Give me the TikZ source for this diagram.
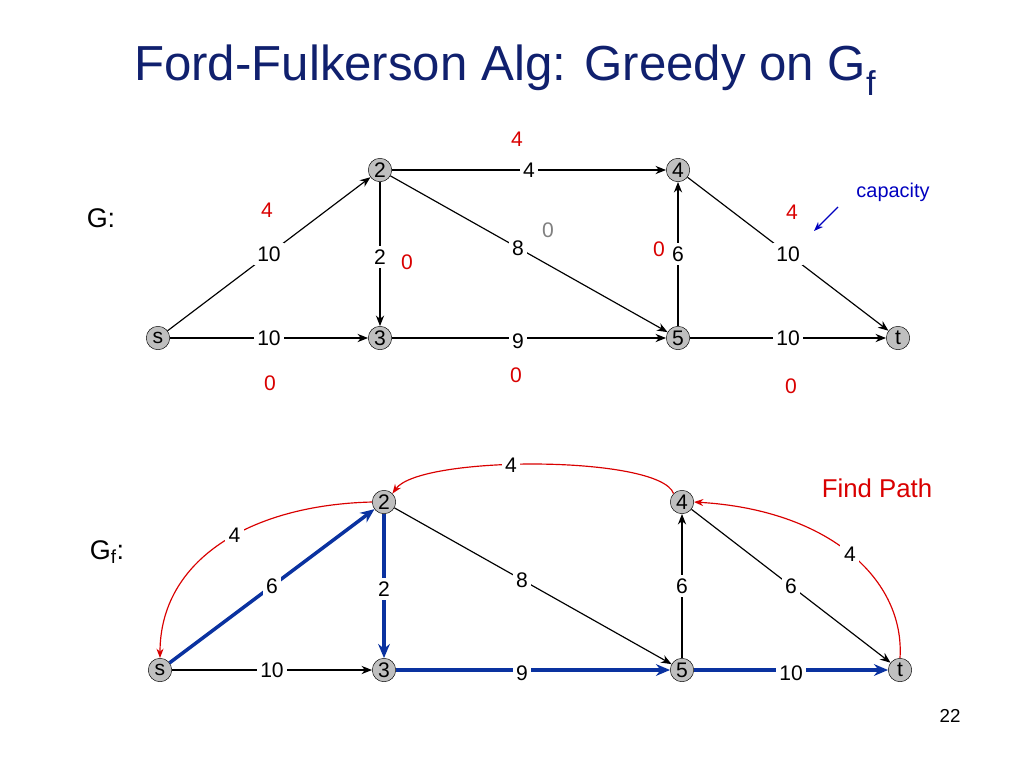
\documentclass[tikz,border=0pt]{standalone}
\usepackage{fontspec}
\setmainfont{Liberation Sans}
\usetikzlibrary{positioning, arrows.meta}

\definecolor{titleblue}{RGB}{16,32,110}
\definecolor{pathblue}{RGB}{10,50,160}

\tikzset{
  vtx/.style={circle, draw=black, fill=black!25, inner sep=0pt, minimum size=20pt, font=\fontsize{18}{18}\selectfont},
  edge/.style={-{Stealth[length=9pt,width=7pt]}, line width=1pt, black},
  path/.style={-{Stealth[length=12pt,width=10pt]}, line width=3pt, pathblue},
  back/.style={-{Stealth[length=8pt,width=6pt]}, line width=1pt, red!85!black},
  lbl/.style={fill=white, inner sep=3pt, font=\fontsize{18}{18}\selectfont},
  flow/.style={text=red!85!black, font=\fontsize{18}{18}\selectfont},
}

\begin{document}
\begin{tikzpicture}[x=0.3mm, y=-0.3mm]
  \useasboundingbox (0,0) rectangle (1024,768);

  \node[text=titleblue, font=\fontsize{42}{42}\selectfont, anchor=west] (title) at (130,70) {Ford-Fulkerson Alg: Greedy on G\textsubscript{f}};

  % G
  \node[font=\fontsize{23}{23}\selectfont] (Glbl) at (101,218) {G:};
  \node[vtx] (s) at (158,338) {s};
  \node[vtx] (v2) at (380,170) {2};
  \node[vtx] (v3) at (380,338) {3};
  \node[vtx] (v4) at (678,170) {4};
  \node[vtx] (v5) at (678,338) {5};
  \node[vtx] (t) at (898,338) {t};

  \draw[edge] (s) -- node[lbl, pos=0.5] {10} (v2);
  \draw[edge] (v2) -- node[lbl] {4} (v4);
  \draw[edge] (v2) -- node[lbl, pos=0.46] {8} (v5);
  \draw[edge] (v2) -- node[lbl, pos=0.52] {2} (v3);
  \draw[edge] (v5) -- node[lbl] {6} (v4);
  \draw[edge] (v4) -- node[lbl, pos=0.5] {10} (t);
  \draw[edge] (s) -- node[lbl, pos=0.5] {10} (v3);
  \draw[edge] (v3) -- node[lbl, pos=0.46, yshift=-3] {9} (v5);
  \draw[edge] (v5) -- node[lbl] {10} (t);

  \node[flow] (f24) at (517,139) {4};
  \node[flow] (fs2) at (267,210) {4};
  \node[text=gray, font=\fontsize{18}{18}\selectfont] (f25) at (548,230) {0};
  \node[flow] (f23) at (407,262) {0};
  \node[flow] (f54) at (659,249) {0};
  \node[flow] (f4t) at (792,212) {4};
  \node[flow] (fs3) at (270,383) {0};
  \node[flow] (f35) at (516,375) {0};
  \node[flow] (f5t) at (791,386) {0};

  \node[text=blue!75!black, font=\fontsize{17}{17}\selectfont] (cap) at (893,192) {capacity};
  \coordinate (capend) at (814,231);
  \draw[-{Stealth[length=8pt,width=6pt]}, line width=1.1pt, blue!75!black] (838,207) -- (capend);

  % G_f
  \node[font=\fontsize{23}{23}\selectfont] (Gflbl) at (107,552) {G\textsubscript{f}:};
  \node[vtx] (fs) at (160,670) {s};
  \node[vtx] (f2) at (384,502) {2};
  \node[vtx] (f3) at (384,670) {3};
  \node[vtx] (f4) at (682,502) {4};
  \node[vtx] (f5) at (682,670) {5};
  \node[vtx] (ft) at (900,670) {t};

  \draw[path] (fs) -- node[lbl, pos=0.5, text=black] {6} (f2);
  \draw[path] (f2) -- node[lbl, pos=0.52, text=black] {2} (f3);
  \draw[path] (f3) -- node[lbl, pos=0.46, yshift=-3, text=black] {9} (f5);
  \draw[path] (f5) -- node[lbl, pos=0.5, yshift=-3, text=black] {10} (ft);
  \draw[edge] (fs) -- node[lbl, pos=0.5] {10} (f3);
  \draw[edge] (f2) -- node[lbl, pos=0.46] {8} (f5);
  \draw[edge] (f5) -- node[lbl] {6} (f4);
  \draw[edge] (f4) -- node[lbl, pos=0.5] {6} (ft);

  \draw[back] (f4.north west) .. controls (660,455) and (420,455) .. node[lbl, pos=0.57, text=black] {4} (f2.north east);
  \draw[back] (f2.west) .. controls (250,505) and (160,560) .. node[lbl, pos=0.44, text=black] {4} (fs.north);
  \draw[back] (ft.north) .. controls (905,580) and (830,510) .. node[lbl, pos=0.5, text=black] {4} (f4.east);

  \node[text=red!85!black, font=\fontsize{22}{22}\selectfont] (find) at (877,488) {Find Path};
  \node[font=\fontsize{16}{16}\selectfont] (page) at (950,716) {22};
\end{tikzpicture}
\end{document}
